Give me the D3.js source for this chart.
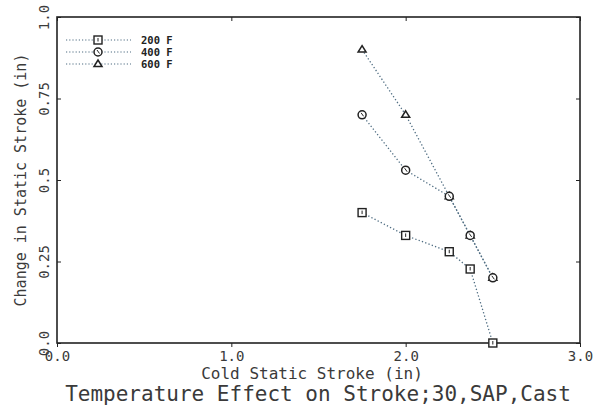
<!DOCTYPE html>
<html>
<head>
<meta charset="utf-8">
<script src="https://cdn.jsdelivr.net/npm/d3@7"></script>
<style>
  body { margin: 0; background: #fff; }
  svg { display: block; font-family: "DejaVu Sans Mono", monospace; }
</style>
</head>
<body>
<div id="chart"></div>
<script>
const coldStroke = [1.75, 2.0, 2.25, 2.37, 2.5];
const change200 = [0.40, 0.33, 0.28, 0.227, 0.0];
const change400 = [0.70, 0.53, 0.45, 0.33, 0.20];
const change600 = [0.90, 0.70, 0.45, 0.33, 0.20];
const seriesNames = ["200 F", "400 F", "600 F"];
const xTicks = [0, 1, 2, 3];
const yTicks = [0, 0.25, 0.5, 0.75, 1.0];
const yTickLabels = ["0.0", "0.25", "0.5", "0.75", "1.0"];

const W = 615, H = 407;
const margin = { top: 17, right: 35, bottom: 64, left: 57 };
const innerW = W - margin.left - margin.right;
const innerH = H - margin.top - margin.bottom;

const svg = d3.select("#chart").append("svg").attr("width", W).attr("height", H);
const g = svg.append("g").attr("transform", `translate(${margin.left},${margin.top})`);

const x = d3.scaleLinear().domain([0, 3]).range([0, innerW]);
const y = d3.scaleLinear().domain([0, 1]).range([innerH, 0]);

const ink = "#222";
const labelInk = "#3a3a3a";

// frame
g.append("rect").attr("width", innerW).attr("height", innerH)
  .attr("fill", "none").attr("stroke", ink).attr("stroke-width", 1.6);

// bottom axis
const gx = g.append("g").attr("transform", `translate(0,${innerH})`)
  .call(d3.axisBottom(x).tickValues(xTicks).tickFormat(d3.format(".1f")).tickSize(4).tickPadding(4));
gx.select(".domain").remove();
gx.selectAll("line").attr("stroke", ink);
gx.selectAll("text").attr("fill", labelInk).style("font-size", "14px")
  .attr("font-family", "DejaVu Sans Mono, monospace");

// top ticks
g.append("g").call(d3.axisTop(x).tickValues(xTicks).tickFormat("").tickSize(-4))
  .call(a => a.select(".domain").remove())
  .selectAll("line").attr("stroke", ink);

// left axis, rotated labels
const gy = g.append("g")
  .call(d3.axisLeft(y).tickValues(yTicks).tickFormat((d, i) => yTickLabels[i]).tickSize(-4));
gy.select(".domain").remove();
gy.selectAll("line").attr("stroke", ink);
gy.selectAll(".tick").each(function (d) {
  d3.select(this).select("text")
    .attr("fill", labelInk).style("font-size", "14px")
    .attr("font-family", "DejaVu Sans Mono, monospace")
    .attr("text-anchor", "middle").attr("x", 0).attr("dy", 0)
    .attr("transform", "translate(-8,0) rotate(-90)");
});

// right ticks
g.append("g").attr("transform", `translate(${innerW},0)`)
  .call(d3.axisRight(y).tickValues(yTicks).tickFormat("").tickSize(-4))
  .call(a => a.select(".domain").remove())
  .selectAll("line").attr("stroke", ink);

// series
const series = [
  { name: seriesNames[0], values: change200, symbol: "square" },
  { name: seriesNames[1], values: change400, symbol: "circle" },
  { name: seriesNames[2], values: change600, symbol: "triangle" }
];

const line = d3.line().x(d => x(d[0])).y(d => y(d[1]));
const lineColor = "#4f6d82";

function drawMarker(sel, symbol) {
  if (symbol === "square") {
    sel.append("rect").attr("x", -4).attr("y", -4).attr("width", 8).attr("height", 8)
      .attr("fill", "#fff").attr("stroke", ink).attr("stroke-width", 1.4);
    sel.append("line").attr("x1", 0).attr("x2", 0).attr("y1", -2).attr("y2", 1.5)
      .attr("stroke", ink).attr("stroke-width", 1);
  } else if (symbol === "circle") {
    sel.append("circle").attr("r", 4).attr("fill", "#fff")
      .attr("stroke", ink).attr("stroke-width", 1.5);
    sel.append("line").attr("x1", -1).attr("x2", 1.5).attr("y1", -2).attr("y2", 1.5)
      .attr("stroke", ink).attr("stroke-width", 1);
  } else {
    sel.append("path").attr("d", "M0,-4L4,2.5L-4,2.5Z").attr("fill", "#fff")
      .attr("stroke", ink).attr("stroke-width", 1.5);
  }
}

series.forEach(s => {
  const pts = coldStroke.map((c, i) => [c, s.values[i]]);
  g.append("path").datum(pts).attr("d", line)
    .attr("fill", "none").attr("stroke", lineColor).attr("stroke-width", 1.3)
    .attr("stroke-dasharray", "1.3,2.2");
});
series.slice().reverse().forEach(s => {
  coldStroke.forEach((c, i) => {
    const m = g.append("g").attr("transform", `translate(${x(c)},${y(s.values[i])})`);
    drawMarker(m, s.symbol);
  });
});

// legend
const legend = g.append("g").attr("transform", "translate(9,23)");
series.forEach((s, i) => {
  const row = legend.append("g").attr("transform", `translate(0,${i * 12})`);
  row.append("line").attr("x1", 0).attr("x2", 65).attr("stroke", lineColor)
    .attr("stroke-width", 1.2).attr("stroke-dasharray", "1.2,2");
  const m = row.append("g").attr("transform", "translate(32,0)");
  drawMarker(m, s.symbol);
  row.append("text").attr("x", 75).attr("y", 4).text(s.name)
    .attr("fill", ink).style("font-size", "10.5px").style("font-weight", "bold");
});

// axis titles
svg.append("text").attr("x", 312).attr("y", 379).attr("text-anchor", "middle")
  .attr("fill", labelInk).style("font-size", "16px").text("Cold Static Stroke (in)");
svg.append("text").attr("transform", `translate(26,${margin.top + innerH / 2}) rotate(-90)`)
  .attr("text-anchor", "middle").attr("fill", labelInk).style("font-size", "15px")
  .text("Change in Static Stroke (in)");
svg.append("text").attr("x", 318).attr("y", 401).attr("text-anchor", "middle")
  .attr("fill", labelInk).style("font-size", "21px").text("Temperature Effect on Stroke;30,SAP,Cast");
</script>
</body>
</html>
